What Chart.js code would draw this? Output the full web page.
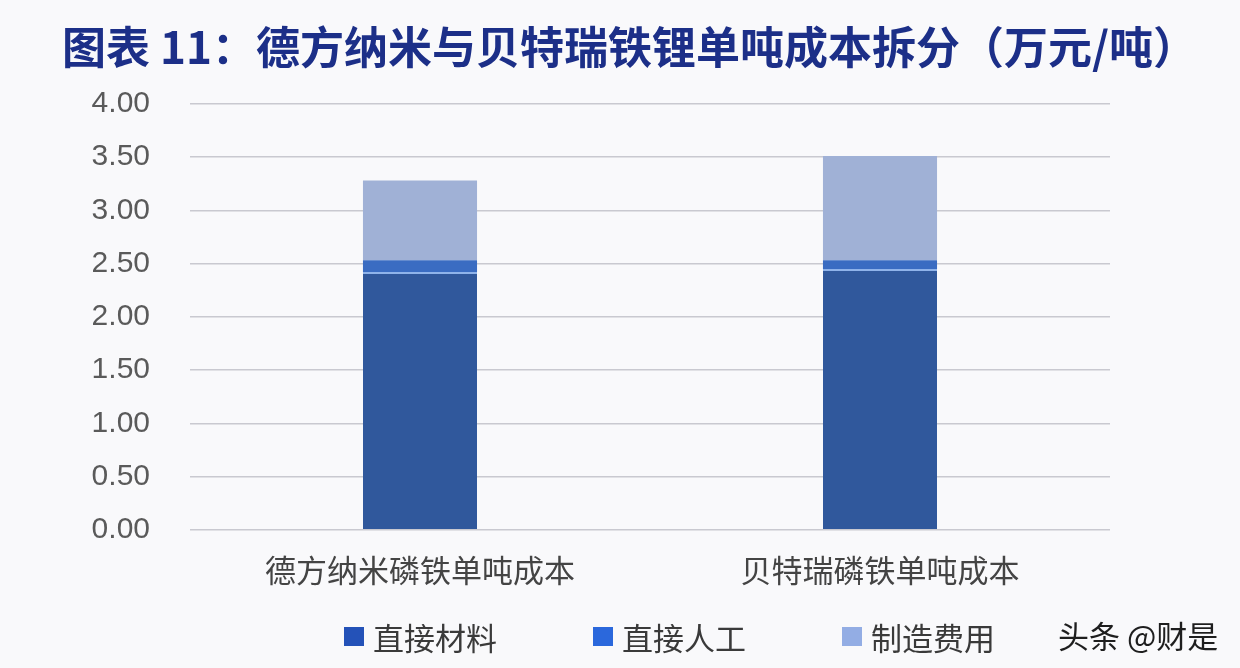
<!DOCTYPE html>
<html>
<head>
<meta charset="utf-8">
<script src="https://cdn.jsdelivr.net/npm/chart.js@4"></script>
<style>
  html, body { margin: 0; padding: 0; background: #f9f9fb; }
  #wrap { position: relative; width: 1240px; height: 668px; }
  #legend { position: absolute; left: 344px; top: 614px; display: flex;
            font-family: "Noto Sans CJK SC", sans-serif; font-size: 31px; color: #3a3a3a; }
  .item { display: flex; align-items: center; width: 249px; }
  .box { width: 20px; height: 19px; margin-right: 9px; }
  #mark { position: absolute; left: 1058px; top: 612px;
          font-family: "Noto Sans CJK SC", sans-serif; font-size: 31px; color: #1e1e1e; }
</style>
</head>
<body>
<div id="wrap">
  <canvas id="cost-chart" width="1240" height="668"></canvas>
  <div id="legend"></div>
  <div id="mark">头条 @财是</div>
</div>
<script>
const categories = ['德方纳米磷铁单吨成本', '贝特瑞磷铁单吨成本'];
const seriesNames = ['直接材料', '直接人工', '制造费用'];
const material = [2.42, 2.45];
const labor = [0.11, 0.08];
const overhead = [0.75, 0.98];
const yTicks = ['0.00', '0.50', '1.00', '1.50', '2.00', '2.50', '3.00', '3.50', '4.00'];

const barColors = ['#30589c', '#3a6cc2', '#a0b1d6'];
const legendColors = ['#2452b8', '#2b68dc', '#93ade4'];

const ctx = document.getElementById('cost-chart');

const myChart = new Chart(ctx, {
    type: 'bar',
    data: {
        labels: categories,
        datasets: [
            { label: seriesNames[0], data: material, backgroundColor: barColors[0],
              borderColor: '#8fb3ea', borderWidth: { top: 2 }, borderSkipped: false },
            { label: seriesNames[1], data: labor, backgroundColor: barColors[1], borderWidth: 0 },
            { label: seriesNames[2], data: overhead, backgroundColor: barColors[2], borderWidth: 0 }
        ]
    },
    options: {
        responsive: false,
        animation: false,
        layout: {
            padding: { left: 62, right: 0, top: 0, bottom: 65 }
        },
        datasets: {
            bar: { categoryPercentage: 1, barPercentage: 0.248 }
        },
        scales: {
            x: {
                stacked: true,
                grid: { display: false },
                border: { display: false },
                ticks: {
                    padding: 14,
                    color: '#444',
                    font: { size: 31, family: 'Noto Sans CJK SC' }
                }
            },
            y: {
                stacked: true,
                min: 0,
                max: 4,
                afterFit: function (scale) { scale.width = 128; },
                afterBuildTicks: function (scale) {
                    scale.ticks = yTicks.map(function (t) { return { value: parseFloat(t) }; });
                },
                grid: { color: '#c9c9d0', lineWidth: 1.5, drawTicks: false },
                border: { display: false },
                ticks: {
                    padding: 40,
                    color: '#5a5a5a',
                    font: { size: 30, family: 'Liberation Sans' },
                    callback: function (value, index) { return yTicks[index]; }
                }
            },
            // empty right-hand margin so the title can span the full width
            yRight: {
                position: 'right',
                display: true,
                afterFit: function (scale) { scale.width = 130; },
                grid: { display: false },
                border: { display: false },
                ticks: { display: false }
            }
        },
        plugins: {
            legend: { display: false },
            tooltip: { enabled: false },
            title: {
                display: true,
                text: '图表 11：德方纳米与贝特瑞铁锂单吨成本拆分（万元/吨）',
                color: '#1c2f88',
                align: 'start',
                padding: { top: 21, bottom: 30 },
                font: { size: 44, weight: 'bold', family: 'Noto Sans CJK SC' }
            }
        }
    }
});

const legendBox = document.getElementById('legend');
seriesNames.forEach(function (name, i) {
    const item = document.createElement('div');
    item.className = 'item';
    item.innerHTML = '<span class="box" style="background:' + legendColors[i] + '"></span><span>' + name + '</span>';
    legendBox.appendChild(item);
});
</script>
</body>
</html>
